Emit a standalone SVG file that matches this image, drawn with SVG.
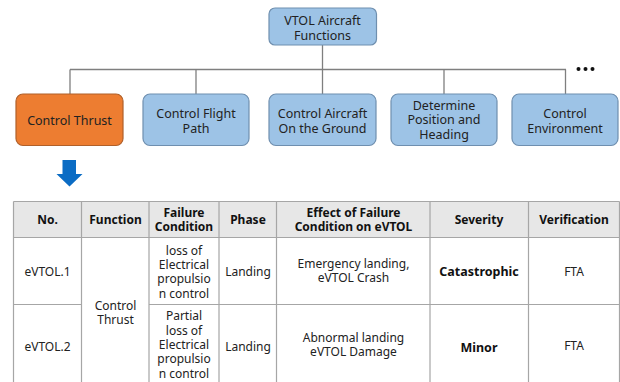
<svg xmlns="http://www.w3.org/2000/svg" width="620" height="382" viewBox="0 0 620 382">
<style>
.box{fill:#9dc3e6;stroke:#6f8faf;stroke-width:1.2}
.orange{fill:#ed7d31;stroke:#b0602a;stroke-width:1.2}
.t{font-family:"Noto Sans","Open Sans",sans-serif;font-size:12.5px;fill:#222;text-anchor:middle}
.c{stroke:#7f7f7f;stroke-width:1.3;fill:none}
.grid{stroke:#a6a6a6;stroke-width:1.2;fill:none}
.th{font-family:"Noto Sans","Open Sans",sans-serif;font-size:12px;font-weight:bold;fill:#111;text-anchor:middle}
.td{font-family:"Noto Sans","Open Sans",sans-serif;font-size:12px;fill:#222;text-anchor:middle}
.tb{font-family:"Noto Sans","Open Sans",sans-serif;font-size:12.5px;font-weight:bold;fill:#111;text-anchor:middle}
</style>
<rect width="620" height="382" fill="#ffffff"/>
<g id="connectors">
<line class="c" x1="322.5" y1="45" x2="322.5" y2="69.5"/>
<line class="c" x1="70" y1="69.5" x2="566" y2="69.5"/>
<line class="c" x1="70" y1="69.5" x2="70" y2="94"/>
<line class="c" x1="196" y1="69.5" x2="196" y2="94"/>
<line class="c" x1="322.5" y1="69.5" x2="322.5" y2="94"/>
<line class="c" x1="444" y1="69.5" x2="444" y2="94"/>
<line class="c" x1="565.5" y1="69.5" x2="565.5" y2="94"/>
</g>
<g id="root">
<rect class="box" x="269" y="8" width="107.5" height="37" rx="6"/>
<text class="t" x="322.5" y="24.5">VTOL Aircraft</text>
<text class="t" x="322.5" y="39.5">Functions</text>
</g>
<g id="n1">
<rect class="orange" x="16" y="94" width="107" height="51.5" rx="7"/>
<text class="t" x="69.5" y="124.5">Control Thrust</text>
</g>
<g id="n2">
<rect class="box" x="143" y="94" width="106" height="51.5" rx="7"/>
<text class="t" x="196" y="118">Control Flight</text>
<text class="t" x="196" y="133">Path</text>
</g>
<g id="n3">
<rect class="box" x="269" y="94" width="107" height="51.5" rx="7"/>
<text class="t" x="322.5" y="118">Control Aircraft</text>
<text class="t" x="322.5" y="133">On the Ground</text>
</g>
<g id="n4">
<rect class="box" x="391" y="94" width="106" height="51.5" rx="7"/>
<text class="t" x="444" y="109.5">Determine</text>
<text class="t" x="444" y="124">Position and</text>
<text class="t" x="444" y="139">Heading</text>
</g>
<g id="n5">
<rect class="box" x="512" y="94" width="106" height="51.5" rx="7"/>
<text class="t" x="565" y="118">Control</text>
<text class="t" x="565" y="133">Environment</text>
</g>
<g id="dots" fill="#111">
<circle cx="578.5" cy="69" r="2"/>
<circle cx="585.5" cy="69" r="2"/>
<circle cx="592.5" cy="69" r="2"/>
</g>
<g id="arrow">
<polygon points="62.5,160 76,160 76,174 82.5,174 69.5,186.5 56.5,174 62.5,174" fill="#0b6cc4"/>
</g>
<g id="table">
<rect x="13.5" y="201.5" width="606" height="36" fill="#e7e7e7"/>
<path class="grid" d="M13.5,201.5 H619.5 M13.5,237.5 H619.5 M13.5,304.5 H81.5 M149,304.5 H619.5 M13.5,201.5 V382 M81.5,201.5 V382 M149,201.5 V382 M219,201.5 V382 M276.5,201.5 V382 M430,201.5 V382 M528.5,201.5 V382 M619.5,201.5 V382"/>
<text class="th" x="47.5" y="224">No.</text>
<text class="th" x="115.5" y="224">Function</text>
<text class="th" x="184" y="216.5">Failure</text>
<text class="th" x="184" y="230.5">Condition</text>
<text class="th" x="248" y="224">Phase</text>
<text class="th" x="353.5" y="216.5">Effect of Failure</text>
<text class="th" x="353.5" y="230.5">Condition on eVTOL</text>
<text class="th" x="479" y="224">Severity</text>
<text class="th" x="574" y="224">Verification</text>
<text class="td" x="47.5" y="276">eVTOL.1</text>
<text class="td" x="47.5" y="350.5">eVTOL.2</text>
<text class="td" x="115.5" y="309.5">Control</text>
<text class="td" x="115.5" y="323.5">Thrust</text>
<text class="td" x="184" y="254.5">loss of</text>
<text class="td" x="184" y="268.5">Electrical</text>
<text class="td" x="184" y="283">propulsio</text>
<text class="td" x="184" y="297.5">n control</text>
<text class="td" x="184" y="320">Partial</text>
<text class="td" x="184" y="334.5">loss of</text>
<text class="td" x="184" y="348.5">Electrical</text>
<text class="td" x="184" y="363">propulsio</text>
<text class="td" x="184" y="377.5">n control</text>
<text class="td" x="248" y="276">Landing</text>
<text class="td" x="248" y="350.5">Landing</text>
<text class="td" x="353.5" y="267.5">Emergency landing,</text>
<text class="td" x="353.5" y="281.5">eVTOL Crash</text>
<text class="td" x="353.5" y="341.5">Abnormal landing</text>
<text class="td" x="353.5" y="356">eVTOL Damage</text>
<text class="tb" x="479" y="275.5">Catastrophic</text>
<text class="tb" x="479" y="351.5">Minor</text>
<text class="td" x="574" y="275.5">FTA</text>
<text class="td" x="574" y="350">FTA</text>
</g>
</svg>
